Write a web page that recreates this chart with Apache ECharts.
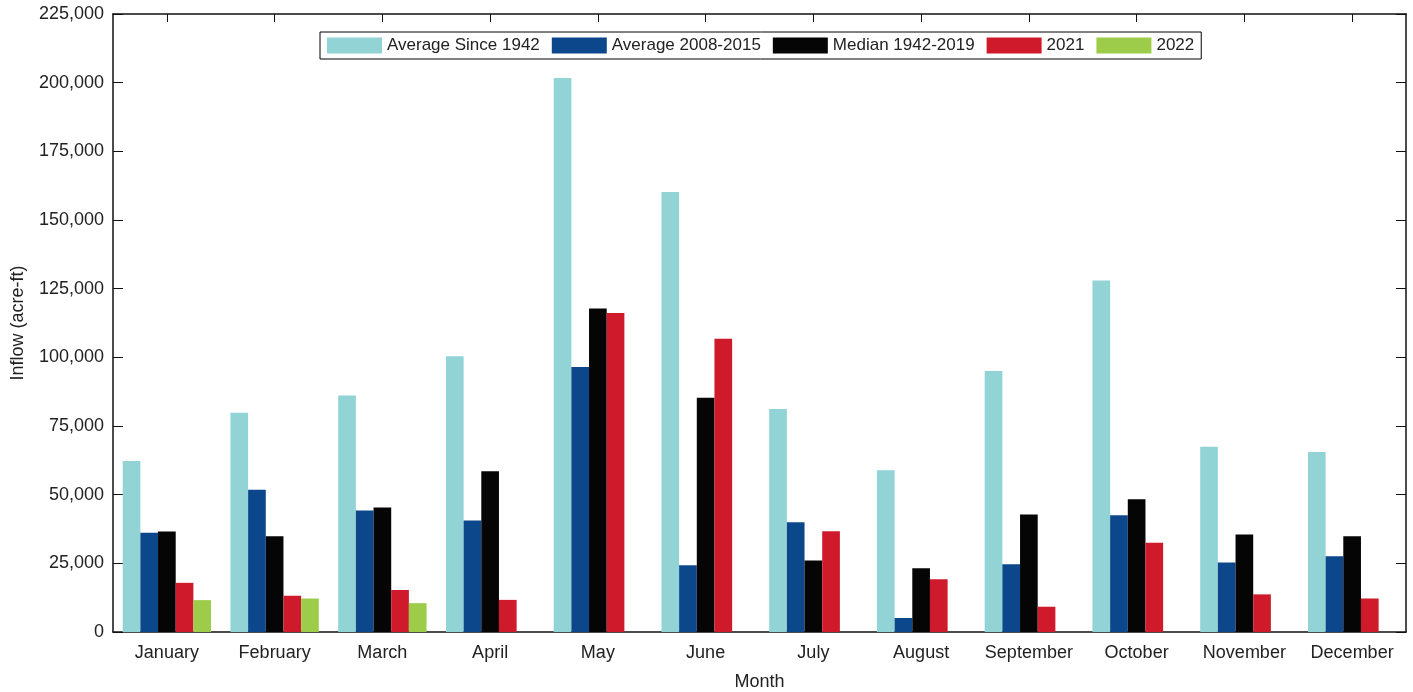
<!DOCTYPE html>
<html>
<head>
<meta charset="utf-8">
<title>Monthly Inflow</title>
<script src="https://cdn.jsdelivr.net/npm/echarts@6/dist/echarts.min.js"></script>
<style>
  html, body { margin: 0; padding: 0; background: #fff; }
  #chart { width: 1413px; height: 692px; }
</style>
</head>
<body>
<div id="chart"></div>
<script>
// Month categories
const months = ['January', 'February', 'March', 'April', 'May', 'June',
  'July', 'August', 'September', 'October', 'November', 'December'];

// Monthly inflow (acre-ft)
const avgSince1942 = [62300, 79800, 86100, 100400, 201700, 160200, 81200, 58900, 95000, 128000, 67400, 65500];
const avg2008to2015 = [36100, 51800, 44200, 40600, 96500, 24300, 40000, 5100, 24700, 42500, 25300, 27600];
const median1942to2019 = [36600, 34900, 45300, 58500, 117800, 85300, 26000, 23200, 42800, 48300, 35500, 34900];
const year2021 = [17900, 13200, 15300, 11700, 116100, 106800, 36700, 19200, 9200, 32500, 13700, 12200];
const year2022 = [11600, 12200, 10500, null, null, null, null, null, null, null, null, null];

// Series names and fill colours
const seriesNames = ['Average Since 1942', 'Average 2008-2015', 'Median 1942-2019', '2021', '2022'];
const seriesColors = ['#92d3d5', '#0c478c', '#050505', '#cf1a2b', '#9dcb4a'];
const seriesData = [avgSince1942, avg2008to2015, median1942to2019, year2021, year2022];

// Value-axis ticks
const yMin = 0, yMax = 225000, yStep = 25000;

const font = 'Liberation Sans, Arial, Helvetica, sans-serif';
const textColor = '#222';
const frame = { show: true, onZero: false, lineStyle: { color: '#111', width: 1.5 } };

const chart = echarts.init(document.getElementById('chart'), null, { renderer: 'canvas' });

const option = {
  animation: false,
  backgroundColor: '#fff',
  textStyle: { fontFamily: font },
  grid: { left: 113, right: 7, top: 14, bottom: 60, containLabel: false, outerBoundsMode: 'none' },
  legend: {
    data: seriesNames,
    left: 320,
    top: 32,
    itemWidth: 55,
    itemHeight: 16,
    itemGap: 12,
    padding: [5, 7],
    borderColor: '#000',
    borderWidth: 1,
    backgroundColor: '#fff',
    icon: 'rect',
    textStyle: { fontFamily: font, fontSize: 17, color: textColor }
  },
  xAxis: [
    {
      type: 'category',
      gridIndex: 0,
      data: months,
      position: 'bottom',
      name: 'Month',
      nameLocation: 'middle',
      nameGap: 41,
      nameTextStyle: { fontFamily: font, fontSize: 18, color: textColor },
      axisLine: frame,
      axisTick: { show: false },
      axisLabel: { interval: 0, fontFamily: font, fontSize: 18, color: textColor, margin: 12 },
      splitLine: { show: false }
    },
    {
      type: 'category',
      gridIndex: 0,
      data: months,
      position: 'top',
      axisLine: frame,
      axisTick: { show: true, inside: true, interval: 0, length: 8, alignWithLabel: true, lineStyle: { color: '#111' } },
      axisLabel: { show: false, interval: 0 },
      splitLine: { show: false }
    }
  ],
  yAxis: [
    {
      type: 'value',
      gridIndex: 0,
      min: yMin,
      max: yMax,
      interval: yStep,
      position: 'left',
      name: 'Inflow (acre-ft)',
      nameLocation: 'middle',
      nameGap: 86,
      nameRotate: 90,
      nameTextStyle: { fontFamily: font, fontSize: 18, color: textColor },
      axisLine: frame,
      axisTick: { show: true, inside: true, length: 10, lineStyle: { color: '#111' } },
      axisLabel: {
        fontFamily: font, fontSize: 18, color: textColor, margin: 9,
        formatter: v => v.toLocaleString('en-US')
      },
      splitLine: { show: false }
    },
    {
      type: 'value',
      gridIndex: 0,
      min: yMin,
      max: yMax,
      interval: yStep,
      position: 'right',
      axisLine: frame,
      axisTick: { show: true, inside: true, length: 10, lineStyle: { color: '#111' } },
      axisLabel: { show: false },
      splitLine: { show: false }
    }
  ],
  series: seriesNames.map((name, i) => ({
    name: name,
    type: 'bar',
    xAxisIndex: 0,
    yAxisIndex: 0,
    data: seriesData[i],
    itemStyle: { color: seriesColors[i] },
    barGap: '0%',
    barCategoryGap: '18%',
    z: 3
  }))
};

chart.setOption(option);
</script>
</body>
</html>
